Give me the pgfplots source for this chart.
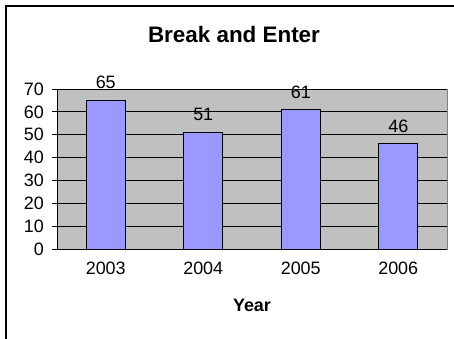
\documentclass[border=0pt]{standalone}
\usepackage{pgfplots}
\pgfplotsset{compat=1.18}
\usepackage{fontspec}
\setmainfont{Liberation Sans}
\definecolor{plotbg}{HTML}{C0C0C0}
\definecolor{barfill}{HTML}{9999FF}
\definecolor{plotedge}{HTML}{808080}
\begin{document}
\begin{tikzpicture}
\useasboundingbox (0,-339bp) rectangle (454bp,0);
\fill[white] (0,-339bp) rectangle (454bp,0);
\draw[black, line width=2bp] (6bp,-339bp) -- (6bp,-6bp) -- (454bp,-6bp);
\begin{axis}[
  at={(57bp,-249bp)}, anchor=south west,
  scale only axis, width=390bp, height=160bp,
  xmin=-0.5, xmax=3.5, ymin=0, ymax=70,
  ytick={0,10,...,70},
  xtick={0,1,2,3},
  xticklabels={2003,2004,2005,2006},
  extra x ticks={-0.5,0.5,1.5,2.5,3.5},
  extra x tick labels={},
  extra x tick style={major tick length=5bp, tick style={black, line width=0.8bp}},
  x tick style={draw=none},
  y tick style={black, line width=0.8bp},
  tick align=outside,
  major tick length=5bp,
  axis x line*=bottom, axis y line*=left,
  axis line style={black, line width=0.8bp, -},
  axis background/.style={fill=plotbg, draw=plotedge, line width=1bp},
  ymajorgrids, major grid style={black, line width=0.8bp},
  /pgf/number format/assume math mode=true,
  tick label style={font=\fontsize{18}{21}\selectfont, inner sep=0pt},
  yticklabel style={xshift=-8bp},
  xticklabel style={yshift=-8bp},
  xlabel={\textbf{Year}},
  xlabel style={font=\fontsize{18}{21}\selectfont, inner sep=0pt, yshift=-14bp},
  ybar, bar width=39bp,
  nodes near coords,
  every node near coord/.append style={font=\fontsize{18}{21}\selectfont, inner sep=0pt, yshift=11bp, black},
  clip=false,
]
\addplot[fill=barfill, draw=black, line width=0.8bp] coordinates {(0,65) (1,51) (2,61) (3,46)};
\end{axis}
\node[font=\bfseries\fontsize{22.5}{26}\selectfont, anchor=base] at (234bp,-42bp) {Break and Enter};
\end{tikzpicture}
\end{document}
